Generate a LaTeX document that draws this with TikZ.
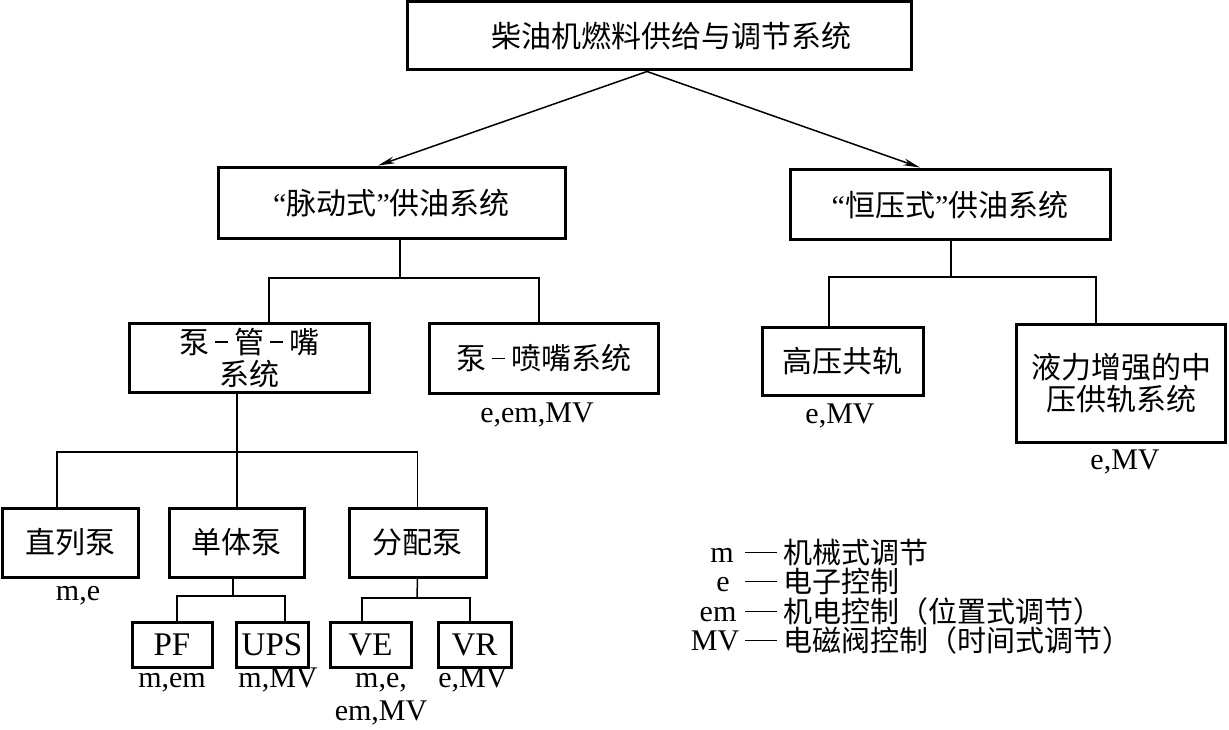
\documentclass[tikz,border=0pt]{standalone}
\usepackage{fontspec}
\setmainfont{Liberation Serif}
\newfontfamily\cjk{Noto Sans CJK SC}
\usetikzlibrary{arrows.meta}
\newcommand\cdash{\hspace{6pt}\rule[10pt]{13pt}{1.6pt}\hspace{6pt}}
\newcommand\ldash{\rule[10pt]{32pt}{1.5pt}\hspace{6pt}}
\begin{document}
\begin{tikzpicture}[x=1pt,y=-1pt,
  box/.style={draw,line width=3pt,inner sep=0pt,align=center,font=\fontsize{30}{32}\selectfont\cjk},
  sbox/.style={draw,line width=3pt,inner sep=0pt,align=center,minimum height=45,font=\fontsize{33}{34}\selectfont\rmfamily},
  lbl/.style={inner sep=0pt,align=center,anchor=base,font=\fontsize{30}{33}\selectfont\rmfamily},
  ctext/.style={inner sep=0pt,anchor=base west,font=\fontsize{29}{32}\selectfont\cjk},
  conn/.style={line width=1.5pt},
  arr/.style={line width=1.5pt,-{Stealth[length=17pt,width=7pt]}}]
\useasboundingbox (0,0) rectangle (1229,730);

% boxes
\node[box,minimum width=504,minimum height=68] (top) at (659,36) {\hspace*{24pt}柴油机燃料供给与调节系统};
\node[box,minimum width=347,minimum height=71] (mai) at (391.5,203.5) {{\rmfamily “}脉动式{\rmfamily ”}供油系统};
\node[box,minimum width=320,minimum height=70] (hen) at (950,205) {{\rmfamily “}恒压式{\rmfamily ”}供油系统};
\node[box,minimum width=240,minimum height=69] (bgz) at (249,357.5) {泵\cdash 管\cdash 嘴\\系统};
\node[box,minimum width=229,minimum height=70] (bpz) at (543.5,358) {泵\cdash 喷嘴系统};
\node[box,minimum width=161,minimum height=68] (gyg) at (842.5,361) {高压共轨};
\node[box,minimum width=209,minimum height=118] (yl) at (1121,383) {液力增强的中\\压供轨系统};
\node[box,minimum width=136,minimum height=69] (zlb) at (70,542.5) {直列泵};
\node[box,minimum width=135,minimum height=69] (dtb) at (236.5,542.5) {单体泵};
\node[box,minimum width=137,minimum height=69] (fpb) at (417.5,542.5) {分配泵};
\node[sbox,minimum width=80] (pf) at (172,644.5) {PF};
\node[sbox,minimum width=72] (ups) at (272,644.5) {UPS};
\node[sbox,minimum width=81] (ve) at (370.5,644.5) {VE};
\node[sbox,minimum width=73] (vr) at (474.5,644.5) {VR};

% labels under boxes
\node[lbl] (l1) at (537,422) {e,em,MV};
\node[lbl] (l2) at (840,423) {e,MV};
\node[lbl] (l3) at (1125,469) {e,MV};
\node[lbl] (l4) at (78,600) {m,e};
\node[lbl] (l5) at (172,687) {m,em};
\node[lbl] (l6) at (278,687) {m,MV};
\node[lbl] (l7) at (381,720) {m,e,\\em,MV};
\node[lbl] (l8) at (473,687) {e,MV};

% arrows from top
\draw[arr] ([xshift=-12pt]top.south) -- ([xshift=-13.5pt,yshift=1pt]mai.north);
\draw[arr] ([xshift=-12pt]top.south) -- ([xshift=-30pt,yshift=1pt]hen.north);

% junction coordinates
\coordinate (jm) at (400,278);
\coordinate (jh) at (951,277);
\coordinate (jg) at (237,452);
\coordinate (jd) at (233,596);
\coordinate (jf) at (417,598);

\draw[conn] ([xshift=8.5pt]mai.south) -- (jm);
\draw[conn] ([xshift=20pt]bgz.north) |- (jm) -| ([xshift=-4.5pt]bpz.north);

\draw[conn] ([xshift=1pt]hen.south) -- (jh);
\draw[conn] ([xshift=-13.5pt]gyg.north) |- (jh) -| ([xshift=-25pt]yl.north);

\draw[conn] ([xshift=-12pt]bgz.south) -- ([xshift=0.5pt]dtb.north);
\draw[conn] ([xshift=-13pt]zlb.north) |- (jg) -| (fpb.north);

\draw[conn] ([xshift=-3.5pt]dtb.south) -- (jd);
\draw[conn] ([xshift=5pt]pf.north) |- (jd) -| ([xshift=13pt]ups.north);

\draw[conn] (fpb.south) -- (jf);
\draw[conn] ([xshift=-8.5pt]ve.north) |- (jf) -| ([xshift=-4.5pt]vr.north);

% legend
\node[lbl] (k1) at (722,562) {m};
\node[lbl] (k2) at (723,591) {e};
\node[lbl] (k3) at (718,621) {em};
\node[lbl] (k4) at (715,650) {MV};
\node[ctext] (t1) at (745,563) {\ldash 机械式调节};
\node[ctext] (t2) at (745,592) {\ldash 电子控制};
\node[ctext] (t3) at (745,622) {\ldash 机电控制（位置式调节）};
\node[ctext] (t4) at (745,651) {\ldash 电磁阀控制（时间式调节）};
\end{tikzpicture}
\end{document}
